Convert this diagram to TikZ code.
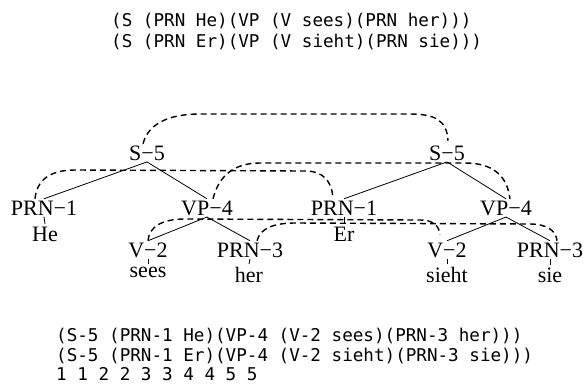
\documentclass[tikz,border=0pt]{standalone}
\usepackage{fontspec}
\setmainfont{Liberation Serif}
\setmonofont{DejaVu Sans Mono}
\begin{document}
\begin{tikzpicture}[x=1pt,y=-1pt,
  lbl/.style={font=\fontsize{22}{26}\selectfont, inner sep=1.5pt, anchor=base},
  word/.style={font=\fontsize{22}{26}\selectfont, inner sep=2.5pt, anchor=base},
  code/.style={font=\ttfamily\fontsize{17.6}{21}\selectfont, inner sep=0pt, anchor=base west},
  edge/.style={line width=0.8pt},
  link/.style={line width=1.4pt, dash pattern=on 6pt off 4pt},
]
\useasboundingbox (0,0) rectangle (585,384);

% bracketed strings
\node[code] (t1) at (111,26) {(S (PRN He)(VP (V sees)(PRN her)))};
\node[code] (t2) at (111,47) {(S (PRN Er)(VP (V sieht)(PRN sie)))};
\node[code] (b1) at (56,341) {(S-5 (PRN-1 He)(VP-4 (V-2 sees)(PRN-3 her)))};
\node[code] (b2) at (56,361) {(S-5 (PRN-1 Er)(VP-4 (V-2 sieht)(PRN-3 sie)))};
\node[code] (b3) at (56,380.5) {1 1 2 2 3 3 4 4 5 5};

% left tree
\node[lbl] (sL) at (147,160) {S−5};
\node[lbl] (pL) at (44,215) {PRN−1};
\node[lbl] (vpL) at (207,215) {VP−4};
\node[lbl] (vL) at (148,257) {V−2};
\node[lbl] (p3L) at (250,257) {PRN−3};
\node[word] (heL) at (45,241) {He};
\node[word] (seesL) at (148,277) {sees};
\node[word] (herL) at (249,282) {her};

% right tree
\node[lbl] (sR) at (447,160) {S−5};
\node[lbl] (pR) at (344,215) {PRN−1};
\node[lbl] (vpR) at (506,215) {VP−4};
\node[lbl] (vR) at (447,257) {V−2};
\node[lbl] (p3R) at (550,257) {PRN−3};
\node[word] (erR) at (344,241) {Er};
\node[word] (siehtR) at (447,282) {sieht};
\node[word] (sieR) at (550,282) {sie};

% tree edges
\foreach \a/\b in {sL/pL, sL/vpL, vpL/vL, vpL/p3L, pL/heL, vL/seesL, p3L/herL,
                   sR/pR, sR/vpR, vpR/vR, vpR/p3R, pR/erR, vR/siehtR, p3R/sieR}
  \draw[edge] (\a.south) -- (\b.north);

% waypoints of the alignment links
\coordinate (s1) at (200,114);
\coordinate (s2) at (410,114);
\coordinate (r1) at (75,170);
\coordinate (r2) at (305,171);
\coordinate (v1) at (260,163);
\coordinate (v2) at (465,163);
\coordinate (w1) at (185,219);
\coordinate (w2) at (420,220);
\coordinate (x1) at (295,223);
\coordinate (x2) at (530,224);

% alignment links
\draw[link] ([xshift=-4pt]sL.north) .. controls +(5,-19) and +(-33,0) .. (s1)
  -- (s2) .. controls +(24,0) and +(-1,-21) .. ([shift={(1,-3)}]sR.north);
\draw[link] ([xshift=-9pt]pL.north) .. controls +(2,-19) and +(-25,0) .. (r1)
  -- (r2) .. controls +(18,0) and +(-1,-18) .. ([xshift=-11pt]pR.north);
\draw[link] ([xshift=6pt]vpL.north) .. controls +(6,-24) and +(-25,0) .. (v1)
  -- (v2) .. controls +(27,0) and +(-3,-24) .. ([xshift=4pt]vpR.north);
\draw[link] (vL.north) .. controls +(1,-14) and +(-23,0) .. (w1)
  -- (w2) .. controls +(12,0) and +(-1,-10) .. ([shift={(-7,-6)}]vR.north);
\draw[link] ([xshift=7pt]p3L.north) .. controls +(3,-12) and +(-22,0) .. (x1)
  -- (x2) .. controls +(17,0) and +(-1,-10) .. ([xshift=7pt]p3R.north);
\end{tikzpicture}
\end{document}
